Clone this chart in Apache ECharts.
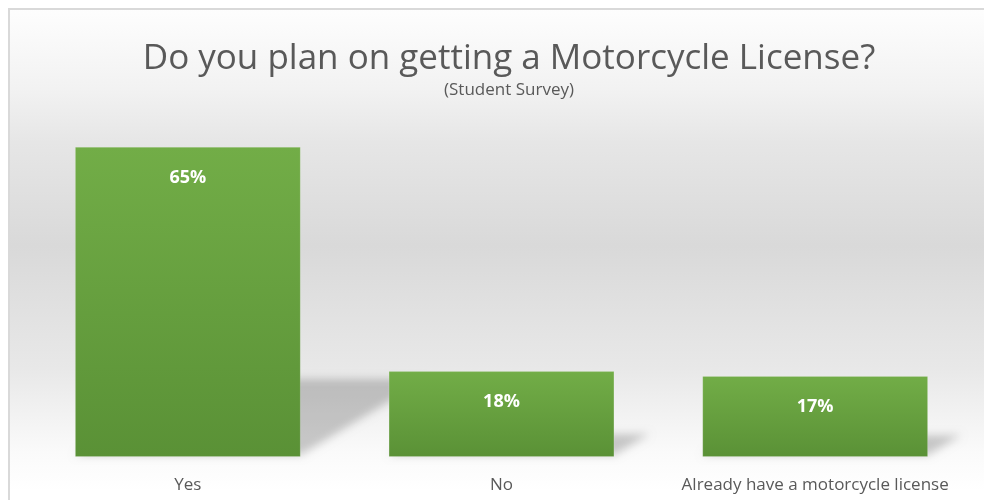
<!DOCTYPE html>
<html>
<head>
<meta charset="utf-8">
<title>Motorcycle License Survey</title>
<script src="https://cdn.jsdelivr.net/npm/echarts@6/dist/echarts.min.js"></script>
<style>
  html, body { margin: 0; padding: 0; background: #ffffff; overflow: hidden; }
  #chart { width: 984px; height: 500px; }
</style>
</head>
<body>
<div id="chart"></div>
<script>
// Survey answers and their shares (percent)
const categories = ['Yes', 'No', 'Already have a motorcycle license'];
const shares = [65, 18, 17];
const titleText = 'Do you plan on getting a Motorcycle License?';
const subtitleText = '(Student Survey)';

const chart = echarts.init(document.getElementById('chart'));

// Soft perspective shadow cast behind each bar, back and to the right.
// The polygon itself is drawn off to the side; only its blurred shadow
// lands under the bar, which keeps every edge soft.
const OFF = 3000;
function renderShadow(params, api) {
  const idx = params.dataIndex;
  const val = api.value(1);
  const base = api.coord([idx, 0]);
  const top = api.coord([idx, val]);
  const bandW = api.size([1, 0])[0];
  const barW = bandW * 0.72;
  const h = base[1] - top[1];
  const rise = h * 0.245;
  const shift = rise * 1.65;
  const x0 = base[0] - barW / 2 - OFF;
  const x1 = base[0] + barW / 2 - OFF;
  const y0 = base[1] - 2;
  return {
    type: 'polygon',
    shape: {
      points: [[x0, y0], [x1, y0], [x1 + shift, y0 - rise], [x0 + shift, y0 - rise]]
    },
    style: {
      fill: '#000000',
      shadowBlur: 9,
      shadowColor: 'rgba(0,0,0,0.2)',
      shadowOffsetX: OFF,
      shadowOffsetY: 0
    },
    z2: 0
  };
}

const option = {
  animation: false,
  graphic: [
    {
      type: 'rect',
      z: -10,
      shape: { x: 9, y: 9, width: 1100, height: 600 },
      style: {
        fill: new echarts.graphic.LinearGradient(0, 0, 0, 500 - 9, [
          { offset: 0, color: '#ffffff' },
          { offset: 0.18, color: '#f2f2f2' },
          { offset: 0.29, color: '#e6e6e6' },
          { offset: 0.5, color: '#d9d9d9' },
          { offset: 0.75, color: '#e8e8e8' },
          { offset: 0.92, color: '#fafafa' },
          { offset: 1, color: '#ffffff' }
        ], true)
      },
      silent: true
    },
    {
      type: 'polyline',
      z: -9,
      shape: { points: [[9, 600], [9, 9], [1100, 9]] },
      style: { stroke: '#d9d9d9', lineWidth: 2, fill: null },
      silent: true
    }
  ],
  title: {
    text: titleText,
    subtext: subtitleText,
    left: 504,
    textAlign: 'center',
    top: 37,
    itemGap: 5,
    textStyle: {
      fontFamily: 'Open Sans',
      fontWeight: 'normal',
      fontSize: 35,
      color: '#595959'
    },
    subtextStyle: {
      fontFamily: 'Open Sans',
      fontSize: 17,
      color: '#595959'
    }
  },
  grid: { left: 31, right: 12, top: 123, bottom: 43 },
  xAxis: {
    type: 'category',
    data: categories,
    axisLine: { show: false },
    axisTick: { show: false },
    axisLabel: {
      interval: 0,
      fontFamily: 'Open Sans',
      fontSize: 17,
      color: '#595959',
      margin: 20
    }
  },
  yAxis: {
    type: 'value',
    min: 0,
    max: 70,
    show: false,
    splitLine: { show: false }
  },
  series: [
    {
      type: 'custom',
      renderItem: renderShadow,
      data: shares.map((v, i) => [i, v]),
      z: 1,
      clip: false,
      silent: true
    },
    {
      type: 'bar',
      data: shares,
      barCategoryGap: '28%',
      z: 2,
      itemStyle: {
        color: new echarts.graphic.LinearGradient(0, 0, 0, 1, [
          { offset: 0, color: '#72ad47' },
          { offset: 1, color: '#5a9136' }
        ]),
        borderColor: 'rgba(255,255,255,0.15)',
        borderWidth: 1
      },
      label: {
        show: true,
        position: 'insideTop',
        distance: 22,
        formatter: '{c}%',
        fontFamily: 'Open Sans',
        fontWeight: 'bold',
        fontSize: 18,
        color: '#ffffff'
      }
    }
  ]
};

chart.setOption(option);
</script>
</body>
</html>
